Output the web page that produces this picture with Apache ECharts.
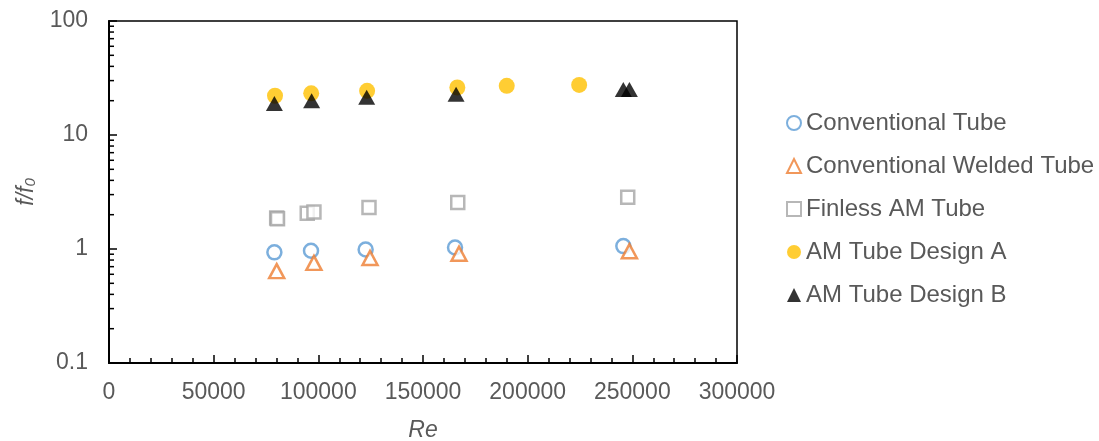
<!DOCTYPE html>
<html>
<head>
<meta charset="utf-8">
<script src="https://cdn.jsdelivr.net/npm/echarts@6/dist/echarts.min.js"></script>
<style>
  html, body { margin: 0; padding: 0; background: #fff; }
  #chart { width: 1099px; height: 441px; }
</style>
</head>
<body>
<div id="chart"></div>
<script>
// data: [Re, f/f0]
var conventional = [[79000, 0.935], [96500, 0.965], [122600, 0.99], [165300, 1.03], [245700, 1.06]];
var welded = [[80100, 0.64], [97900, 0.755], [124700, 0.835], [167200, 0.91], [248600, 0.955]];
var finless = [[80100, 1.87], [80500, 1.84], [94700, 2.06], [97900, 2.11], [124200, 2.31], [166600, 2.56], [247800, 2.85]];
var designA = [[79300, 22.1], [96600, 23.2], [123300, 24.4], [166400, 26.1], [190000, 27.0], [224600, 27.5]];
var designB = [[79000, 18.9], [96800, 20.0], [123100, 21.4], [165800, 22.8], [245700, 25.1], [248600, 25.1]];

var seriesNames = ['Conventional Tube', 'Conventional Welded Tube', 'Finless AM Tube', 'AM Tube Design A', 'AM Tube Design B'];
var yTickLabels = ['0.1', '1', '10', '100'];
var yMinorTicks = [0.2, 0.3, 0.4, 0.5, 0.6, 0.7, 0.8, 0.9, 2, 3, 4, 5, 6, 7, 8, 9, 20, 30, 40, 50, 60, 70, 80, 90];

var chart = echarts.init(document.getElementById('chart'));

var FONT = 'Liberation Sans, Arial, sans-serif';
var labelFont = { color: '#595959', fontSize: 23, fontFamily: FONT };

var option = {
    animation: false,
    grid: {
        left: 109, right: 362, top: 21, bottom: 78,
        containLabel: false, outerBoundsMode: 'none',
        show: true, borderColor: '#000', borderWidth: 1.5
    },
    legend: {
        data: seriesNames,
        orient: 'vertical',
        left: 781, top: 106,
        itemWidth: 14, itemHeight: 14, itemGap: 19,
        textStyle: { color: '#595959', fontSize: 24, lineHeight: 24, fontFamily: FONT }
    },
    xAxis: {
        type: 'value', min: 0, max: 300000, interval: 50000,
        name: 'Re', nameLocation: 'middle', nameGap: 56,
        nameTextStyle: { color: '#595959', fontSize: 23, fontStyle: 'italic', fontFamily: FONT },
        axisLine: { lineStyle: { color: '#000', width: 2 } },
        axisTick: { inside: true, length: 8, lineStyle: { color: '#000', width: 1.5 } },
        minorTick: { show: true, splitNumber: 5, length: 5, lineStyle: { color: '#000', width: 1.5 } },
        axisLabel: Object.assign({ margin: 18, formatter: function (v) { return String(v); } }, labelFont),
        splitLine: { show: false }
    },
    yAxis: {
        type: 'log', logBase: 10, min: 0.1, max: 100,
        name: '{i|f/f}{s|0}', nameLocation: 'middle', nameGap: 70,
        nameTextStyle: {
            rich: {
                i: { color: '#595959', fontSize: 23, fontStyle: 'italic', fontFamily: FONT },
                s: { color: '#595959', fontSize: 15, fontStyle: 'italic', verticalAlign: 'bottom', padding: [10, 0, 0, 0], fontFamily: FONT }
            }
        },
        axisLine: { show: true, lineStyle: { color: '#000', width: 2 } },
        axisTick: { show: true, inside: true, length: 8, lineStyle: { color: '#000', width: 1.5 } },
        axisLabel: Object.assign({
            margin: 21,
            formatter: function (v) {
                var s = String(+v.toPrecision(3));
                return yTickLabels.indexOf(s) >= 0 ? s : '';
            }
        }, labelFont),
        splitLine: { show: false }
    },
    series: [
        {
            name: seriesNames[0], type: 'scatter', data: conventional,
            symbol: 'circle', symbolSize: 14,
            itemStyle: { color: '#fff', borderColor: '#5B9BD5', borderWidth: 2.5 }
        },
        {
            name: seriesNames[1], type: 'scatter', data: welded,
            symbol: 'triangle', symbolSize: [15, 14],
            itemStyle: { color: '#fff', borderColor: '#ED7D31', borderWidth: 2.5 }
        },
        {
            name: seriesNames[2], type: 'scatter', data: finless,
            symbol: 'rect', symbolSize: 13,
            itemStyle: { color: '#fff', borderColor: '#A5A5A5', borderWidth: 2.5 }
        },
        {
            name: seriesNames[3], type: 'scatter', data: designA,
            symbol: 'circle', symbolSize: 16,
            itemStyle: { color: '#FFC000' }
        },
        {
            name: seriesNames[4], type: 'scatter', data: designB,
            symbol: 'triangle', symbolSize: [17, 15],
            itemStyle: { color: '#000' }
        },
        {
            // log-axis minor ticks at 2..9 of each decade
            type: 'custom', silent: true, clip: false,
            data: yMinorTicks.map(function (v) { return [0, v]; }),
            renderItem: function (params, api) {
                var p = api.coord([0, api.value(1)]);
                return {
                    type: 'line',
                    shape: { x1: p[0], y1: p[1], x2: p[0] + 5, y2: p[1] },
                    style: { stroke: '#000', lineWidth: 1.5 }
                };
            }
        }
    ]
};

chart.setOption(option);
</script>
</body>
</html>
